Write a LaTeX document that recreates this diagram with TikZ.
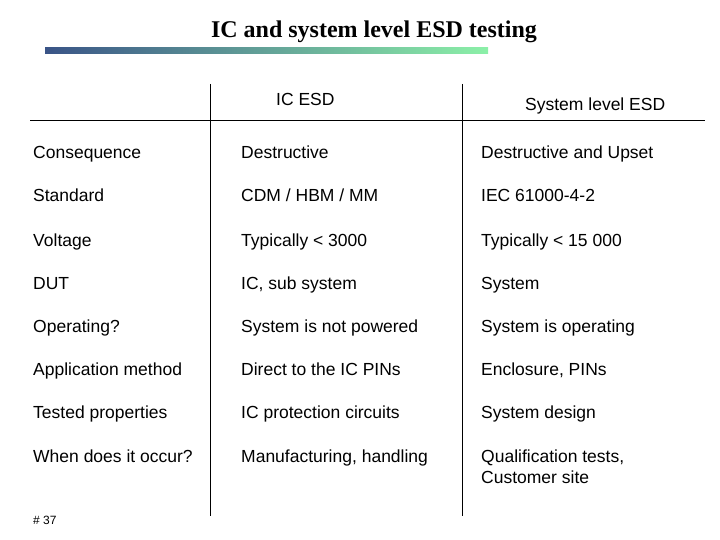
\documentclass[tikz,border=0pt]{standalone}
\usepackage{fontspec}
\setmainfont{Liberation Sans}
\newfontfamily\titlefont{Liberation Serif}
\definecolor{barL}{HTML}{3A5487}
\definecolor{barR}{HTML}{8CF0A8}
\begin{document}
\begin{tikzpicture}[x=1pt,y=-1pt,
 cell/.style={anchor=base west,font=\fontsize{17.5}{21}\selectfont,align=left,inner sep=0pt},
 rule/.style={line width=0.8pt}]
\useasboundingbox (0,0) rectangle (720,540);
\node[font=\titlefont\bfseries\fontsize{24}{28}\selectfont] (title) at (374,32) {IC and system level ESD testing};
\shade[left color=barL, right color=barR] (45,48) rectangle (488,54);
\node[cell] (h1) at (276,106) {IC ESD};
\node[cell] (h2) at (525,111) {System level ESD};
\coordinate (la) at (30,120); \coordinate (lb) at (705,120);
\draw[rule] (la) -- (lb);
\coordinate (v1a) at (210,84); \coordinate (v1b) at (210,516);
\coordinate (v2a) at (462,84); \coordinate (v2b) at (462,516);
\draw[rule] (v1a) -- (v1b);
\draw[rule] (v2a) -- (v2b);
\foreach \y/\a/\b/\c [count=\i] in {
 159/{Consequence}/{Destructive}/{Destructive and Upset},
 202/{Standard}/{CDM / HBM / MM}/{IEC 61000-4-2},
 246/{Voltage}/{Typically < 3000}/{Typically < 15 000},
 289/{DUT}/{IC, sub system}/{System},
 332/{Operating?}/{System is not powered}/{System is operating},
 375/{Application method}/{Direct to the IC PINs}/{Enclosure, PINs},
 418/{Tested properties}/{IC protection circuits}/{System design},
 462/{When does it occur?}/{Manufacturing, handling}/{Qualification tests,}}{
 \node[cell] (a\i) at (33,\y) {\a};
 \node[cell] (b\i) at (241,\y) {\b};
 \node[cell] (c\i) at (481,\y) {\c};
}
\node[cell] (c9) at (481,483) {Customer site};
\node[cell,font=\fontsize{12}{14}\selectfont] (pg) at (33,524) {\# 37};
\end{tikzpicture}
\end{document}
